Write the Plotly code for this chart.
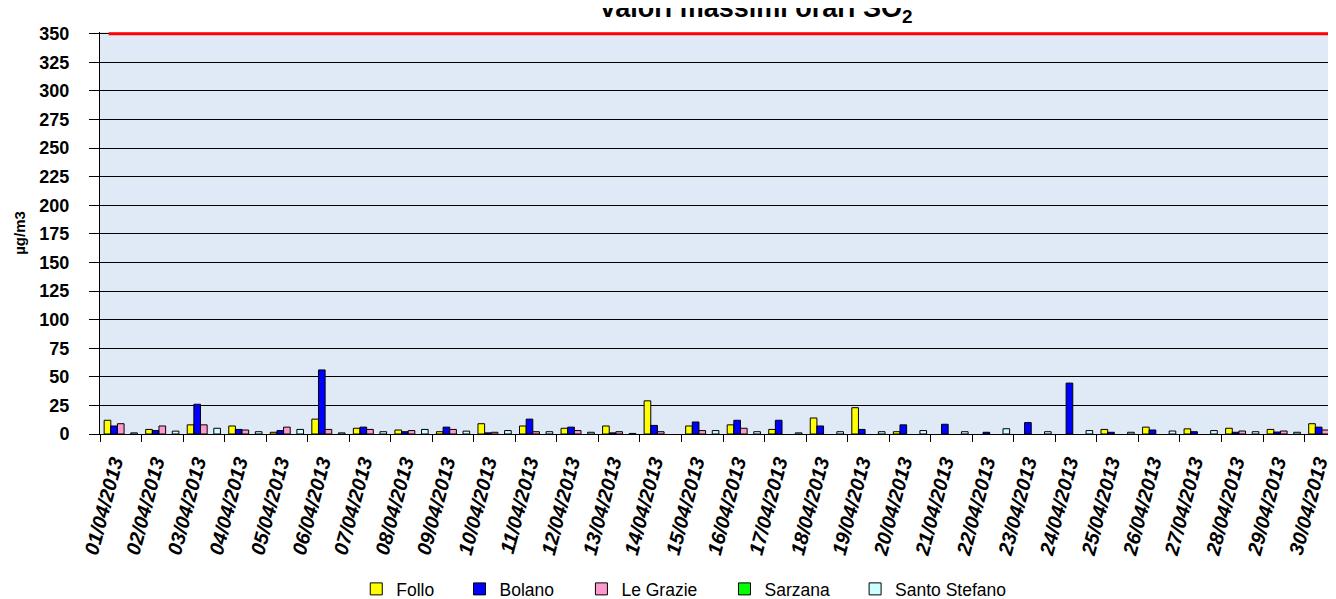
import plotly.graph_objects as go

days = [
    "01/04/2013", "02/04/2013", "03/04/2013", "04/04/2013", "05/04/2013",
    "06/04/2013", "07/04/2013", "08/04/2013", "09/04/2013", "10/04/2013",
    "11/04/2013", "12/04/2013", "13/04/2013", "14/04/2013", "15/04/2013",
    "16/04/2013", "17/04/2013", "18/04/2013", "19/04/2013", "20/04/2013",
    "21/04/2013", "22/04/2013", "23/04/2013", "24/04/2013", "25/04/2013",
    "26/04/2013", "27/04/2013", "28/04/2013", "29/04/2013", "30/04/2013",
]

follo = [12, 4, 8, 7, 1.5, 13, 5, 3.5, 2, 9,
         7, 5, 7, 29, 7, 8, 4, 14, 23, 2,
         None, None, None, None, 4, 6, 4.5, 5, 4, 9]
bolano = [7, 3, 26, 4, 3, 56, 6, 2, 6, 1,
          13, 6, 1, 7.5, 10.5, 12, 12, 7, 4, 8,
          8.5, 1.5, 10, 44.5, 1.5, 3.5, 2, 1.5, 1.7, 6]
le_grazie = [9, 7, 8, 3.5, 6, 4, 4, 3, 4, 1.5,
             2, 3, 2, 2, 3, 5, None, None, None, None,
             None, None, None, None, None, None, None, 2.6, 2.6, 3.5]
sarzana = [None] * 30
santo_stefano = [1, 2.5, 5, 2, 4, 1, 2, 4, 2.5, 3,
                 2, 1.5, 0.5, None, 3, 2, 1, 2, 2, 3,
                 2, 4.6, 2, 3, 1.5, 2.6, 3, 2, 1.5, 1.5]

limit = 350

font = "Arial, Liberation Sans, sans-serif"

fig = go.Figure()

# name, values, colour, legend id, legend x (paper)
series = [
    ("Follo", follo, "#FFFF00", "legend", 0.206),
    ("Bolano", bolano, "#0000FF", "legend2", 0.289),
    ("Le Grazie", le_grazie, "#FF99CC", "legend3", 0.387),
    ("Sarzana", sarzana, "#00FF00", "legend4", 0.502),
    ("Santo Stefano", santo_stefano, "#CCFFFF", "legend5", 0.607),
]

legends = {}
for name, vals, color, leg, lx in series:
    fig.add_trace(
        go.Bar(
            x=days,
            y=vals,
            name=name,
            legend=leg,
            marker=dict(color=color, line=dict(color="black", width=1)),
        )
    )
    legends[leg] = dict(
        orientation="h",
        x=lx,
        xanchor="left",
        y=-0.386,
        yanchor="middle",
        font=dict(size=17.5, family=font, color="black"),
        bgcolor="rgba(0,0,0,0)",
    )

# limit line
fig.add_hline(y=limit, line=dict(color="#FF0000", width=3), x0=0.007, x1=1)

fig.update_layout(
    width=1336,
    height=599,
    margin=dict(l=92, r=0, t=24, b=168),
    paper_bgcolor="white",
    plot_bgcolor="#dfeaf6",
    barmode="group",
    bargap=0.2,
    bargroupgap=0,
    font=dict(family=font, color="black"),
    title=dict(
        text="Valori massimi orari SO<sub>2</sub>",
        font=dict(size=27, family=font, color="black", weight="bold"),
        x=0.527,
        xref="paper",
        xanchor="center",
        y=1,
        yref="container",
        yanchor="middle",
    ),
    showlegend=True,
    **legends,
)

fig.update_xaxes(
    type="category",
    range=[-0.5, 29.45],
    tickangle=-75,
    tickfont=dict(size=20, family=font, weight="bold", style="italic"),
    ticks="outside",
    ticklen=7,
    tickcolor="black",
    tickson="boundaries",
    showline=True,
    linecolor="black",
    linewidth=1,
    showgrid=False,
    ticklabelstandoff=8,
    ticklabelshift=-7,
)

fig.update_yaxes(
    range=[0, 351.5],
    tickvals=list(range(0, 351, 25)),
    tickfont=dict(size=18, family=font, weight="bold"),
    ticks="outside",
    ticklen=10,
    tickcolor="black",
    showline=True,
    linecolor="black",
    linewidth=1,
    showgrid=True,
    gridcolor="black",
    gridwidth=1,
    zeroline=False,
    ticklabelstandoff=16,
    title=dict(text="µg/m3", font=dict(size=15, family=font, weight="bold"), standoff=10),
)

fig.write_html("out.html")
